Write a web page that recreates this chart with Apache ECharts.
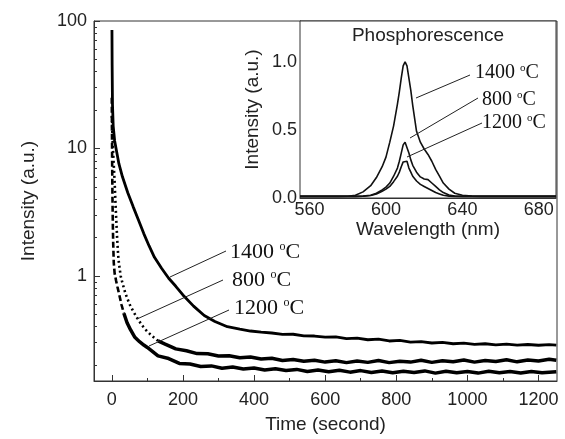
<!DOCTYPE html>
<html><head><meta charset="utf-8">
<script src="https://cdn.jsdelivr.net/npm/echarts@6/dist/echarts.min.js"></script>
<style>html,body{margin:0;padding:0;background:#fff}#c{width:565px;height:439px}</style>
</head><body><div id="c"></div><script>
// ---- Main decay curves (time in s, intensity a.u.) ----
const t1400 = [0.5,1,2,4,8,12,20,30,45,60,75,90,105,120,140,160,180,200,230,260,290,325,360,390,420,450,480,510,540,570,600,630,660,690,720,750,780,810,840,870,900,930,960,990,1020,1050,1080,1110,1140,1170,1200,1230,1250];
const v1400 = [85,45,22,15,11.5,10,7.6,6.0,4.5,3.5,2.75,2.15,1.72,1.4,1.15,0.96,0.83,0.71,0.58,0.49,0.44,0.40,0.383,0.37,0.362,0.357,0.348,0.349,0.339,0.338,0.331,0.333,0.323,0.325,0.316,0.319,0.309,0.312,0.303,0.306,0.298,0.301,0.294,0.297,0.291,0.294,0.288,0.292,0.287,0.290,0.286,0.289,0.287];

const t800Early = [0.5,2,5,8,10,12,15,18,20,25,30,38,50,60,71,85,100,115,130];
const v800Early = [18,12,8,5.5,4,3,2,1.45,1.27,1.0,0.88,0.735,0.6,0.53,0.47,0.41,0.366,0.335,0.31];
const t800Tail = [130,150,180,210,240,270,300,330,360,390,420,450,480,510,540,570,600,630,660,690,720,750,780,810,840,870,900,930,960,990,1020,1050,1080,1110,1140,1170,1200,1230,1250];
const v800Tail = [0.31,0.292,0.268,0.259,0.246,0.245,0.236,0.237,0.228,0.231,0.223,0.226,0.217,0.221,0.214,0.218,0.211,0.216,0.209,0.215,0.210,0.217,0.209,0.214,0.211,0.218,0.210,0.216,0.212,0.219,0.211,0.217,0.213,0.220,0.212,0.219,0.215,0.222,0.218];

const t1200Early = [0,0.5,1,2,3,4,5.6,8,12,16,20,27,34];
const v1200Early = [25,15,8,4,2.5,1.8,1.27,1.05,0.92,0.82,0.735,0.6,0.51];
const t1200Tail = [34,43,53,65,78,90,100,130,160,190,220,250,280,310,340,370,400,430,460,490,520,550,580,610,640,670,700,730,760,790,820,850,880,910,940,970,1000,1030,1060,1090,1120,1150,1180,1210,1250];
const v1200Tail = [0.51,0.43,0.377,0.33,0.305,0.287,0.275,0.236,0.225,0.206,0.204,0.195,0.197,0.189,0.193,0.186,0.190,0.183,0.187,0.181,0.185,0.178,0.183,0.177,0.182,0.176,0.181,0.175,0.180,0.174,0.179,0.175,0.180,0.173,0.179,0.174,0.178,0.173,0.179,0.174,0.178,0.173,0.178,0.174,0.177];

// ---- Inset phosphorescence spectra ----
const wl = [555,565,575,580,584,588,592,595,598,600,602,604,606,607,608,609,610,611,612,613,614,616,618,620,622,624,626,628,630,633,636,640,645,650,660,670,680,689];
const s1400 = [0.012,0.012,0.012,0.013,0.02,0.045,0.09,0.15,0.23,0.30,0.41,0.53,0.69,0.78,0.88,0.97,1.0,0.97,0.88,0.79,0.68,0.49,0.41,0.36,0.32,0.27,0.21,0.16,0.11,0.065,0.035,0.02,0.014,0.012,0.012,0.012,0.012,0.012];
const s800 = [0.012,0.012,0.012,0.012,0.012,0.014,0.02,0.035,0.06,0.08,0.11,0.16,0.22,0.27,0.33,0.39,0.41,0.40,0.33,0.28,0.24,0.19,0.155,0.14,0.135,0.11,0.085,0.06,0.04,0.022,0.014,0.012,0.012,0.012,0.012,0.012,0.012,0.012];
const s1200 = [0.012,0.012,0.012,0.012,0.012,0.013,0.018,0.03,0.05,0.065,0.085,0.12,0.16,0.19,0.23,0.265,0.275,0.27,0.22,0.19,0.16,0.125,0.1,0.085,0.07,0.055,0.04,0.03,0.02,0.014,0.012,0.012,0.012,0.012,0.012,0.012,0.012,0.012];

// ---- Axis tick values ----
const mainXLabels = [0,200,400,600,800,1000,1200];
const mainXMinor = [100,300,500,700,900,1100];
const mainYLabels = [1,10,100];
const mainYMinor = [0.2,0.3,0.4,0.5,0.6,0.7,0.8,0.9,2,3,4,5,6,7,8,9,20,30,40,50,60,70,80,90];
const insetXLabels = [560,600,640,680];
const insetXTicks = [560,580,600,620,640,660,680];
const insetYLabels = [0,0.5,1.0];
const insetYTicks = [0,0.25,0.5,0.75,1.0,1.25];

const zip = (a,b) => a.map((x,i)=>[x,b[i]]);
const SANS = 'Liberation Sans, Arial, sans-serif';
const SERIF = 'Liberation Serif, Times New Roman, serif';
const AX = '#333';

const chart = echarts.init(document.getElementById('c'));

function degLabel(num, x, y, fs) {
  return {
    type:'text', x:x, y:y, z:100,
    style:{
      text:'{a|' + num + ' }{s|o}{a|C}',
      verticalAlign:'middle',
      rich:{
        a:{fontSize:fs, fontFamily:SERIF, fill:'#111', verticalAlign:'middle'},
        s:{fontSize:Math.round(fs*0.55), fontFamily:SERIF, fill:'#111', verticalAlign:'top'}
      }
    }
  };
}
function lead(x1,y1,x2,y2){
  return {type:'line', z:100, shape:{x1:x1,y1:y1,x2:x2,y2:y2}, style:{stroke:'#222', lineWidth:1}};
}

const option = {
  animation:false,
  backgroundColor:'#fff',
  grid:[
    {left:94, top:21, right:8, bottom:58, show:true, borderColor:AX, borderWidth:1, backgroundColor:'transparent'},
    {left:300, top:21, right:9, bottom:241, show:true, borderColor:AX, borderWidth:1, backgroundColor:'#fff', z:5}
  ],
  xAxis:[
    {gridIndex:0, type:'value', min:-50, max:1252,
     name:'Time (second)', nameLocation:'middle', nameGap:34,
     nameTextStyle:{fontSize:19, fontFamily:SANS, color:'#222'},
     axisLine:{onZero:false, lineStyle:{color:AX}},
     axisTick:{inside:true, length:6, customValues:mainXLabels, lineStyle:{color:AX}},
     axisLabel:{customValues:mainXLabels, fontSize:18, fontFamily:SANS, color:'#222', margin:10,
       formatter:v=>String(v)},
     splitLine:{show:false}},
    {gridIndex:0, type:'value', min:-50, max:1252, position:'bottom',
     axisLine:{show:false, onZero:false},
     axisTick:{inside:true, length:3, customValues:mainXMinor, lineStyle:{color:AX}},
     axisLabel:{show:false}, splitLine:{show:false}},
    {gridIndex:1, type:'value', min:555, max:689,
     name:'Wavelength (nm)', nameLocation:'middle', nameGap:20,
     nameTextStyle:{fontSize:19, fontFamily:SANS, color:'#222'},
     axisLine:{onZero:false, lineStyle:{color:AX}},
     axisTick:{inside:true, length:4, customValues:insetXTicks, lineStyle:{color:AX}},
     axisLabel:{customValues:insetXLabels, fontSize:18, fontFamily:SANS, color:'#222', margin:3},
     splitLine:{show:false}}
  ],
  yAxis:[
    {gridIndex:0, type:'log', logBase:10, min:0.15, max:100, position:'left',
     name:'Intensity (a.u.)', nameLocation:'middle', nameGap:56,
     nameTextStyle:{fontSize:19, fontFamily:SANS, color:'#222'},
     axisLine:{onZero:false, lineStyle:{color:AX}},
     axisTick:{inside:true, length:6, customValues:mainYLabels, lineStyle:{color:AX}},
     axisLabel:{customValues:mainYLabels, fontSize:18, fontFamily:SANS, color:'#222', margin:7,
       formatter:v=>String(Math.round(v))},
     splitLine:{show:false}},
    {gridIndex:0, type:'log', logBase:10, min:0.15, max:100, position:'left', offset:0,
     axisLine:{show:false, onZero:false},
     axisTick:{inside:true, length:3, customValues:mainYMinor, lineStyle:{color:AX}},
     axisLabel:{show:false}, splitLine:{show:false}},
    {gridIndex:1, type:'value', min:0, max:1.3, position:'left',
     name:'Intensity (a.u.)', nameLocation:'middle', nameGap:38,
     nameTextStyle:{fontSize:19, fontFamily:SANS, color:'#222'},
     axisLine:{onZero:false, lineStyle:{color:AX}},
     axisTick:{inside:true, length:4, customValues:insetYTicks, lineStyle:{color:AX}},
     axisLabel:{customValues:insetYLabels, fontSize:18, fontFamily:SANS, color:'#222', margin:3,
       formatter:v=>v.toFixed(1)},
     splitLine:{show:false}}
  ],
  series:[
    {name:'1400', type:'line', xAxisIndex:0, yAxisIndex:0, data:zip(t1400,v1400), showSymbol:false,
     lineStyle:{color:'#000', width:2.8}},
    {name:'800 early', type:'line', xAxisIndex:0, yAxisIndex:0, data:zip(t800Early,v800Early), showSymbol:false,
     lineStyle:{color:'#000', width:2.6, type:[2,3]}},
    {name:'800 tail', type:'line', xAxisIndex:0, yAxisIndex:0, data:zip(t800Tail,v800Tail), showSymbol:false,
     lineStyle:{color:'#000', width:3.5}},
    {name:'1200 early', type:'line', xAxisIndex:0, yAxisIndex:0, data:zip(t1200Early,v1200Early), showSymbol:false,
     lineStyle:{color:'#000', width:2.6, type:[6,3]}},
    {name:'1200 tail', type:'line', xAxisIndex:0, yAxisIndex:0, data:zip(t1200Tail,v1200Tail), showSymbol:false,
     lineStyle:{color:'#000', width:3.5}},
    {name:'s1400', type:'line', xAxisIndex:2, yAxisIndex:2, data:zip(wl,s1400), showSymbol:false, z:10,
     lineStyle:{color:'#111', width:1.6}},
    {name:'s800', type:'line', xAxisIndex:2, yAxisIndex:2, data:zip(wl,s800), showSymbol:false, z:10,
     lineStyle:{color:'#111', width:1.6}},
    {name:'s1200', type:'line', xAxisIndex:2, yAxisIndex:2, data:zip(wl,s1200), showSymbol:false, z:10,
     lineStyle:{color:'#111', width:1.6}}
  ],
  graphic:[
    {type:'text', x:428, y:36, z:100, style:{text:'Phosphorescence', fontSize:19, fontFamily:SANS, fill:'#222', align:'center', verticalAlign:'middle'}},
    lead(170,277,226,251), lead(137,319,223,280), lead(149,346,229,310),
    degLabel('1400',230,252,22), degLabel('800',232,280,22), degLabel('1200',234,308,22),
    lead(416,98,470,75), lead(410,138,478,98), lead(407,157,482,123),
    degLabel('1400',475,73,20), degLabel('800',482,100,20), degLabel('1200',482,123,20)
  ]
};
chart.setOption(option);
</script></body></html>
